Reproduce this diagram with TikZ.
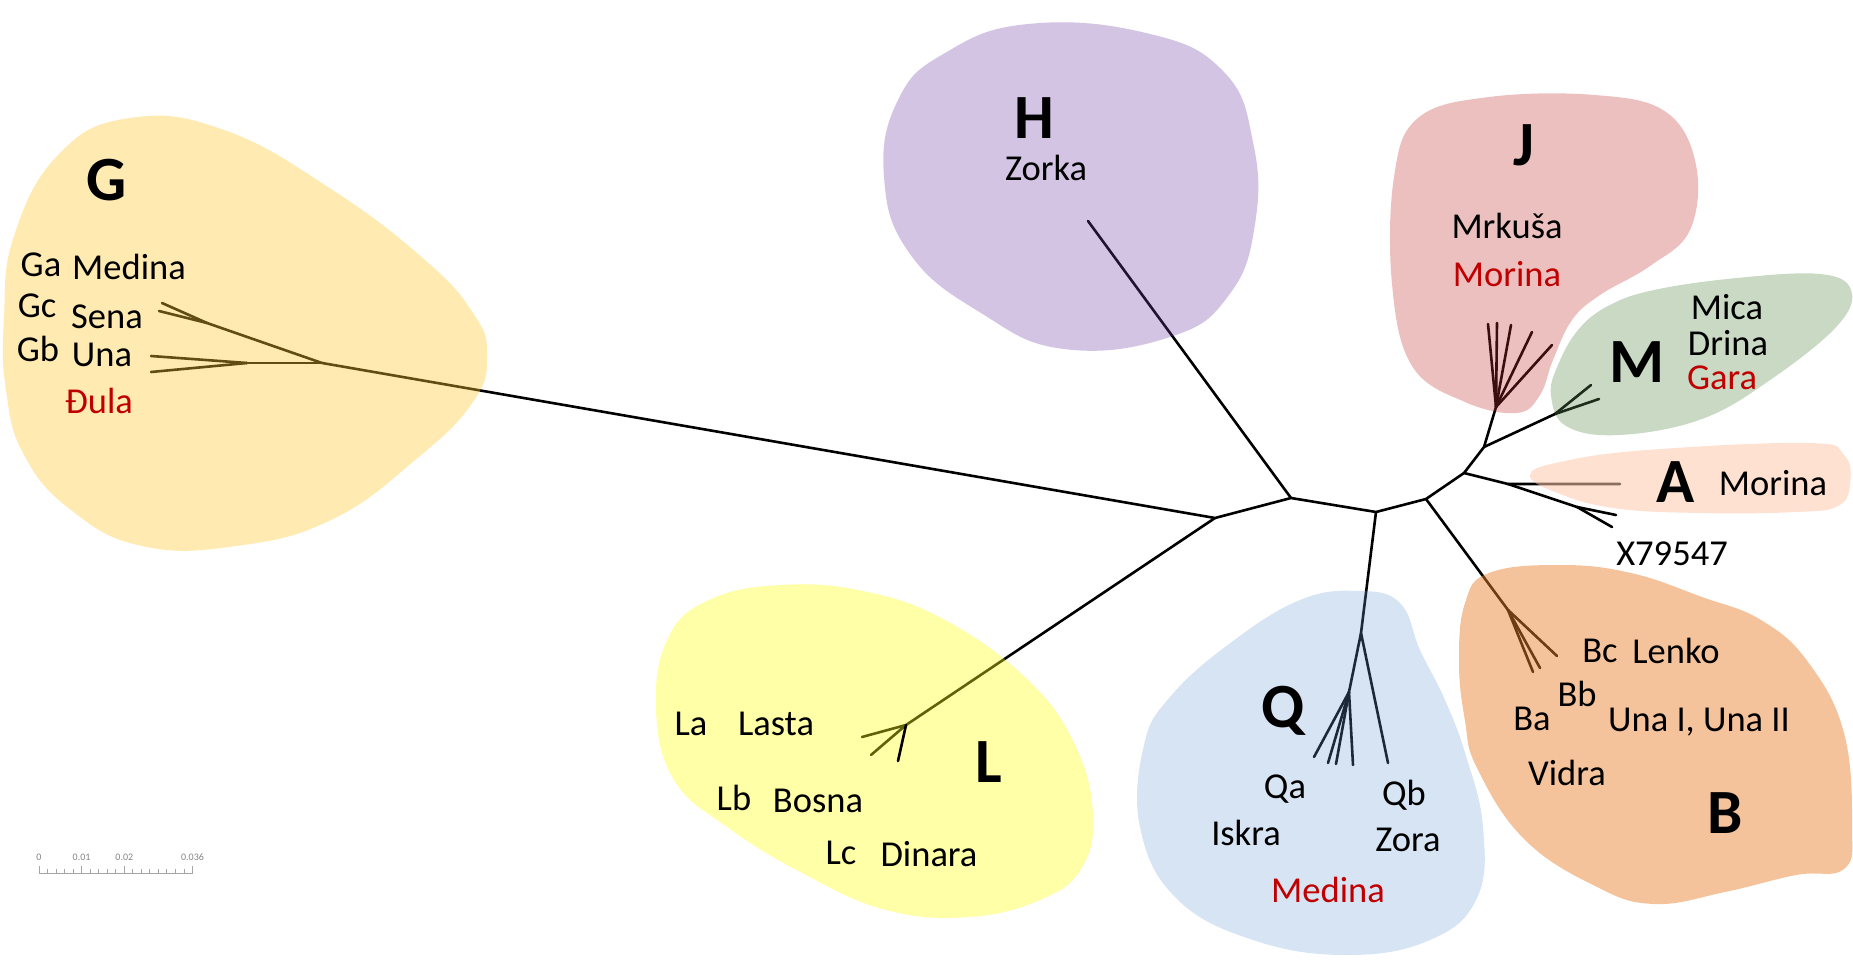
\documentclass[tikz,border=0pt]{standalone}
\usepackage{fontspec}
\setmainfont{Carlito}
\usetikzlibrary{calc}
\definecolor{cG}{RGB}{255,200,53}
\definecolor{cL}{RGB}{255,255,26}
\definecolor{cH}{RGB}{110,60,167}
\definecolor{cJ}{RGB}{195,48,48}
\definecolor{cM}{RGB}{91,139,76}
\definecolor{cA}{RGB}{255,200,173}
\definecolor{cB}{RGB}{234,128,43}
\definecolor{cQ}{RGB}{104,155,211}
\definecolor{redtext}{RGB}{192,0,0}
\definecolor{scalegrey}{RGB}{165,165,165}
\begin{document}
\begin{tikzpicture}[x=1pt,y=-1pt,line cap=round,line join=round,
  branch/.style={line width=2.6pt,black},
  blob/.style={fill opacity=#1},
  lab/.style={font=\fontsize{36.5}{40}\selectfont,inner sep=0pt},
  redlab/.style={lab,text=redtext},
  big/.style={font=\fontsize{63}{70}\selectfont\bfseries,inner sep=0pt},
  scalelab/.style={font=\fontsize{10}{12}\selectfont,text=scalegrey!80!black,inner sep=0pt}]
\useasboundingbox (0,0) rectangle (1853,960);

% ---------- tree coordinates ----------
\coordinate (n1) at (1215,518);
\coordinate (n2) at (1291,498);
\coordinate (n3) at (1376,512);
\coordinate (n4) at (1426,499);
\coordinate (n5) at (1464,473);
\coordinate (n6) at (1484,447);
\coordinate (jJ) at (1496,407);
\coordinate (jM) at (1555,414);
\coordinate (jA) at (1508,484);
\coordinate (jX) at (1577,507);
\coordinate (jB) at (1508,610);
\coordinate (jQ) at (1361,633);
\coordinate (jQa) at (1349,692);
\coordinate (jL) at (906,725);
\coordinate (jG) at (322,363);
\coordinate (jGb) at (247,363);
\coordinate (jGc) at (207,323);
% leaves
\coordinate (lH) at (1088,221);
\coordinate (lJ1) at (1488,324);
\coordinate (lJ2) at (1497,323);
\coordinate (lJ3) at (1511,325);
\coordinate (lJ4) at (1532,332);
\coordinate (lJ5) at (1552,345);
\coordinate (lM1) at (1591,385);
\coordinate (lM2) at (1599,399);
\coordinate (lA) at (1620,484);
\coordinate (lX1) at (1616,515);
\coordinate (lX2) at (1612,527);
\coordinate (lB1) at (1533,672);
\coordinate (lB2) at (1540,668);
\coordinate (lB3) at (1557,656);
\coordinate (lQb) at (1388,763);
\coordinate (lQ1) at (1314,757);
\coordinate (lQ2) at (1328,763);
\coordinate (lQ3) at (1336,764);
\coordinate (lQ4) at (1353,765);
\coordinate (lL1) at (862,737);
\coordinate (lL2) at (871,755);
\coordinate (lL3) at (898,761);
\coordinate (lGb1) at (151,356);
\coordinate (lGb2) at (151,372);
\coordinate (lGc1) at (162,303);
\coordinate (lGc2) at (159,311);

% ---------- tree ----------
\draw[branch] (jG) -- (n1) -- (n2) -- (n3) -- (n4) -- (n5) -- (n6) -- (jJ);
\draw[branch] (n1) -- (jL);
\draw[branch] (n2) -- (lH);
\draw[branch] (n3) -- (jQ) -- (jQa);
\draw[branch] (jQ) -- (lQb);
\foreach \l in {lQ1,lQ2,lQ3,lQ4} \draw[branch] (jQa) -- (\l);
\draw[branch] (n4) -- (jB);
\foreach \l in {lB1,lB2,lB3} \draw[branch] (jB) -- (\l);
\draw[branch] (n6) -- (jM);
\foreach \l in {lM1,lM2} \draw[branch] (jM) -- (\l);
\foreach \l in {lJ1,lJ2,lJ3,lJ4,lJ5} \draw[branch] (jJ) -- (\l);
\draw[branch] (n5) -- (jA) -- (lA);
\draw[branch] (jA) -- (jX);
\foreach \l in {lX1,lX2} \draw[branch] (jX) -- (\l);
\foreach \l in {lL1,lL2} \draw[branch] (jL) -- (\l);
\draw[branch] (jG) -- (jGb);
\foreach \l in {lGb1,lGb2} \draw[branch] (jGb) -- (\l);
\draw[branch] (jG) -- (jGc);
\foreach \l in {lGc1,lGc2} \draw[branch] (jGc) -- (\l);

% ---------- clade blobs ----------
\fill[cG,blob=0.38] plot[smooth cycle,tension=0.75] coordinates {
 (4,319) (14,236) (59,154) (130,118) (224,130) (331,189) (425,260) (473,313)
 (487,354) (473,402) (414,461) (331,520) (236,546) (142,546) (71,510) (24,455) (6,390)};
\fill[cH,blob=0.30] plot[smooth cycle,tension=0.75] coordinates {
 (945,53) (1028,24) (1146,33) (1223,71) (1253,142) (1255,224) (1229,295)
 (1170,337) (1064,349) (981,313) (910,254) (884,177) (898,100)};
\fill[cJ,blob=0.30] plot[smooth cycle,tension=0.65] coordinates {
 (1418,118) (1489,97) (1595,95) (1666,112) (1696,165) (1690,230) (1650,266)
 (1600,295) (1572,320) (1553,360) (1540,395) (1517,413) (1465,402) (1412,366)
 (1392,284) (1394,177)};
\fill[cM,blob=0.33] plot[smooth cycle,tension=0.65] coordinates {
 (1551,395) (1558,365) (1578,330) (1608,306) (1654,290) (1737,278) (1820,274)
 (1851,290) (1838,325) (1773,378) (1702,419) (1619,435) (1566,426)};
\fill[cA,blob=0.55] plot[smooth cycle,tension=0.7] coordinates {
 (1530,475) (1560,462) (1647,450) (1808,443) (1844,455) (1850,484) (1838,506)
 (1796,512) (1700,513) (1613,508) (1555,492)};
\fill[cB,blob=0.47] plot[smooth cycle,tension=0.7] coordinates {
 (1489,573) (1560,565) (1631,573) (1702,597) (1761,620) (1808,662) (1844,733)
 (1852,827) (1844,869) (1796,875) (1725,892) (1654,904) (1595,886) (1524,839)
 (1477,768) (1465,721) (1459,662) (1465,603)};
\fill[cQ,blob=0.27] plot[smooth cycle,tension=0.7] coordinates {
 (1300,600) (1359,591) (1400,603) (1420,650) (1445,700) (1466,756) (1483,827)
 (1477,898) (1430,940) (1347,955) (1253,940) (1176,898) (1140,827) (1144,745)
 (1170,697) (1229,644)};
\fill[cL,blob=0.38] plot[smooth cycle,tension=0.7] coordinates {
 (668,638) (709,600) (780,585) (863,591) (945,620) (1028,680) (1075,745)
 (1093,815) (1081,869) (1040,900) (969,917) (886,910) (804,874) (727,827)
 (674,780) (656,709)};

% short leaf shown on top in L
\draw[branch] (jL) -- (lL3);

% ---------- labels ----------
\node[big] (tG) at (107,180) {G};
\node[lab] (tGa) at (41,265) {Ga};
\node[lab] (tMedG) at (129,267) {Medina};
\node[lab] (tGc) at (37,306) {Gc};
\node[lab] (tSena) at (107,317) {Sena};
\node[lab] (tGb) at (38,349) {Gb};
\node[lab] (tUna) at (102,355) {Una};
\node[redlab] (tDula) at (99,401) {Đula};

\node[big] (tH) at (1034,118) {H};
\node[lab] (tZorka) at (1046,168) {Zorka};

\node[big] (tJ) at (1524,145) {J};
\node[lab] (tMrk) at (1507,226) {Mrkuša};
\node[redlab] (tMorJ) at (1507,274) {Morina};

\node[lab] (tMica) at (1727,307) {Mica};
\node[lab] (tDrina) at (1728,343) {Drina};
\node[redlab] (tGara) at (1722,378) {Gara};
\node[big] (tM) at (1637,362) {M};

\node[big] (tA) at (1676,482) {A};
\node[lab] (tMorA) at (1773,483) {Morina};
\node[lab] (tX) at (1672,554) {X79547};

\node[lab] (tBc) at (1600,651) {Bc};
\node[lab] (tLenko) at (1676,651) {Lenko};
\node[lab] (tBb) at (1577,694) {Bb};
\node[lab] (tBa) at (1532,719) {Ba};
\node[lab] (tUnaI) at (1699,722) {Una I, Una II};
\node[lab] (tVidra) at (1567,773) {Vidra};
\node[big] (tB) at (1725,813) {B};

\node[big] (tQ) at (1283,711) {Q};
\node[lab] (tQa) at (1285,789) {Qa};
\node[lab] (tIskra) at (1246,833) {Iskra};
\node[lab] (tQb) at (1404,795) {Qb};
\node[lab] (tZora) at (1408,840) {Zora};
\node[redlab] (tMedQ) at (1328,890) {Medina};

\node[big] (tL) at (989,762) {L};
\node[lab] (tLa) at (691,724) {La};
\node[lab] (tLasta) at (776,724) {Lasta};
\node[lab] (tLb) at (734,798) {Lb};
\node[lab] (tBosna) at (818,801) {Bosna};
\node[lab] (tLc) at (841,853) {Lc};
\node[lab] (tDinara) at (929,854) {Dinara};

% ---------- scale bar ----------
\coordinate (s0) at (39,873);
\coordinate (s1) at (192.5,873);
\draw[scalegrey,line width=0.9pt,line cap=butt] (s0) -- (s1);
\foreach \i in {0,...,18}
  \draw[scalegrey,line width=0.9pt,line cap=butt] ($(s0)+(\i*8.528,0)$) -- ++(0,-4);
\foreach \i in {0,5,10,18}
  \draw[scalegrey,line width=0.9pt,line cap=butt] ($(s0)+(\i*8.528,0)$) -- ++(0,-7);
\node[scalelab] (sl0) at (39,857) {0};
\node[scalelab] (sl1) at (81.6,857) {0.01};
\node[scalelab] (sl2) at (124.3,857) {0.02};
\node[scalelab] (sl3) at (192.5,857) {0.036};
\end{tikzpicture}
\end{document}
